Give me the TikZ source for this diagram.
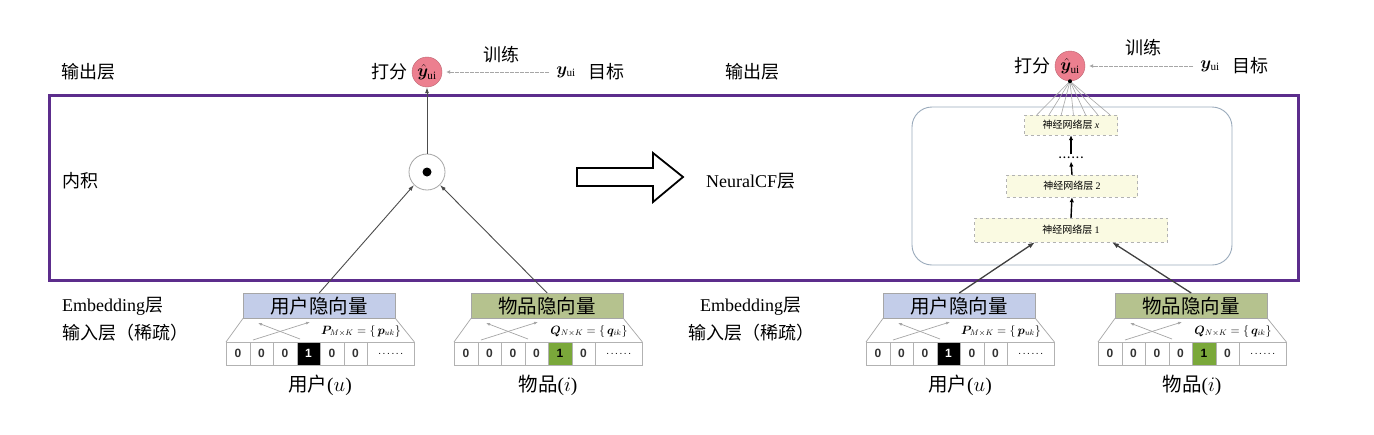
\documentclass[tikz,border=0pt]{standalone}
\usepackage{fontspec}
\usepackage{bm}
\setmainfont{Liberation Serif}
\newfontfamily\cjk{Noto Sans CJK SC}
\newfontfamily\cellf{Liberation Sans}
\usetikzlibrary{arrows.meta,calc}
\definecolor{userblue}{HTML}{C3CDE9}
\definecolor{itemgreen}{HTML}{B5C28E}
\definecolor{onegreen}{HTML}{7AA83A}
\definecolor{framepurple}{HTML}{5C2D8C}
\definecolor{yhatpink}{HTML}{EC7F8F}
\definecolor{layerfill}{HTML}{FAFAE2}
\definecolor{ncfgray}{HTML}{9AAABB}
\newcommand\spdots{.\kern1.6pt.\kern1.6pt.\kern1.6pt.\kern1.6pt.\kern1.6pt.}
\tikzset{
  lab/.style={font=\cjk\fontsize{18}{20}\selectfont, inner sep=0pt},
  botlab/.style={font=\cjk\fontsize{19.5}{21}\selectfont, inner sep=0pt},
  embbox/.style={draw=gray!70, minimum width=152pt, minimum height=25pt, inner sep=0pt, font=\cjk\fontsize{19.5}{20}\selectfont},
  cell/.style={draw=gray!60, minimum width=23.5pt, minimum height=23pt, inner sep=0pt, font=\cellf\bfseries\fontsize{12}{12}\selectfont},
  mtx/.style={inner sep=0pt, font=\fontsize{11.5}{13}\selectfont},
  trap/.style={draw=gray!70, line width=0.7pt},
  xarr/.style={draw=gray!70, line width=0.7pt, -{Latex[length=4pt,width=3pt]}},
  thinarr/.style={draw=gray!60!black, line width=0.9pt, -{Latex[length=6pt,width=4pt]}},
  trainarr/.style={draw=gray!70, line width=0.9pt, dash pattern=on 2pt off 0.5pt, -{Latex[length=4pt,width=4pt]}},
  thickarr/.style={draw=black, line width=1.4pt, -{Latex[length=5pt,width=4.5pt]}},
  embarr/.style={draw=black!75, line width=1.3pt, -{Latex[length=7pt,width=5pt]}},
  yhat/.style={circle, fill=yhatpink, draw=yhatpink!80!black, line width=0.4pt, minimum size=30pt, inner sep=0pt, font=\fontsize{16}{16}\selectfont},
  layerbox/.style={draw=gray!60, dashed, fill=layerfill, inner sep=0pt, font=\cjk\fontsize{10}{12}\selectfont},
  fan/.style={draw=gray!70, line width=0.6pt},
}
\newcommand\embunit[9]{%
  \node[embbox, fill=#3, anchor=north west] (#1box) at (#2,293) {#4};
  \node[mtx] (#1mtx) at (#2+118,331) {#5};
  \foreach \k in {0,...,5}{%
    \ifnum\k=#6\relax\def\mycf{#7}\def\myct{#8}\def\mycc{1}\else\def\mycf{white}\def\myct{black!80}\def\mycc{0}\fi
    \node[cell, fill=\mycf, text=\myct, anchor=north west] (#1c\k) at ({#2-17+23.5*\k},342) {\mycc};
  }
  \node[cell, minimum width=47pt, anchor=north west, font=\cellf\fontsize{10}{10}\selectfont] (#1c6) at (#2+124,342) {\spdots};
  \draw[trap] (#1box.south west) -- (#1c0.north west);
  \draw[trap] (#1box.south east) -- (#1c6.north east);
  \coordinate (#1xa) at (#2+57,339);
  \coordinate (#1xb) at (#2+15,323);
  \coordinate (#1xc) at (#2+10,340);
  \coordinate (#1xd) at (#2+67,322);
  \draw[xarr] (#1xa) -- (#1xb);
  \draw[xarr] (#1xc) -- (#1xd);
  \node[botlab] (#1lbl) at (#2+77,385) {#9};
}
\begin{document}
\begin{tikzpicture}[x=1pt,y=-1pt]
\fill[white] (0,0) rectangle (1374,434);
\useasboundingbox (0,0) rectangle (1374,434);

% purple frame
\draw[framepurple, line width=3pt] (49,95) rectangle (1298,280);

% left labels
\node[lab, anchor=west] (l1) at (61,72) {输出层};
\node[lab, anchor=west] (l2) at (62,181) {内积};
\node[lab, anchor=west] (l3) at (62,306) {{\rmfamily Embedding}层};
\node[lab, anchor=west] (l4) at (62,333) {输入层（稀疏）};
% middle labels
\node[lab, anchor=west] (m1) at (725,72) {输出层};
\node[lab, anchor=west] (m2) at (706,181) {{\rmfamily NeuralCF}层};
\node[lab, anchor=west] (m3) at (700,306) {{\rmfamily Embedding}层};
\node[lab, anchor=west] (m4) at (688,333) {输入层（稀疏）};

% ===== left model =====
\node[yhat] (lyhat) at (427,72) {$\hat{\bm{y}}_{\mathrm{ui}}$};
\node[lab, anchor=east] (lscore) at ($(lyhat.west)+(-4,0)$) {打分};
\node[inner sep=1pt, font=\fontsize{16}{16}\selectfont] (lytgt) at (566,72) {$\bm{y}_{\mathrm{ui}}$};
\node[lab, anchor=west] (lgoal) at (588,72) {目标};
\draw[trainarr, shorten <=6pt, shorten >=4pt] (lytgt.west) -- (lyhat.east);
\node[lab] (ltrain) at (501,55) {训练};

\node[circle, draw=gray!70, line width=0.8pt, minimum size=36pt, inner sep=0pt] (ldot) at (427,172) {};
\fill[black] (ldot.center) circle (4.5pt);
\draw[thinarr] (ldot.north) -- (lyhat.south);

\embunit{lu}{243}{userblue}{用户隐向量}{$\bm{P}_{M\times K}=\{\,\bm{p}_{uk}\}$}{3}{black}{white}{用户{\rmfamily(}$u${\rmfamily)}}
\embunit{li}{471}{itemgreen}{物品隐向量}{$\bm{Q}_{N\times K}=\{\,\bm{q}_{ik}\}$}{4}{onegreen}{black}{物品{\rmfamily(}$i${\rmfamily)}}

\draw[thinarr] (lubox.north) -- (ldot.225);
\draw[thinarr] (libox.north) -- (ldot.-45);

% hollow arrow
\draw[black, line width=1.8pt, line join=miter] (577,168) -- (653,168) -- (653,153) -- (683,177) -- (653,202) -- (653,186) -- (577,186) -- cycle;

% ===== right model =====
\node[yhat] (ryhat) at (1070,66) {$\hat{\bm{y}}_{\mathrm{ui}}$};
\node[lab, anchor=east] (rscore) at ($(ryhat.west)+(-4,0)$) {打分};
\node[inner sep=1pt, font=\fontsize{16}{16}\selectfont] (rytgt) at (1210,66) {$\bm{y}_{\mathrm{ui}}$};
\node[lab, anchor=west] (rgoal) at (1232,66) {目标};
\draw[trainarr, shorten <=6pt, shorten >=4pt] (rytgt.west) -- (ryhat.east);
\node[lab] (rtrain) at (1143,48) {训练};

\draw[ncfgray, line width=0.9pt, rounded corners=20pt] (912,107) rectangle (1232,265);

\node[layerbox, minimum width=93pt, minimum height=20pt] (lx) at (1071,125) {神经网络层 {\rmfamily\itshape x}};
\node[inner sep=2.5pt, font=\bfseries\fontsize{11}{11}\selectfont] (ldots) at (1071,158) {\spdots};
\node[layerbox, minimum width=131pt, minimum height=22pt] (lb2) at (1072,186) {神经网络层 {\rmfamily 2}};
\node[layerbox, minimum width=193pt, minimum height=24pt] (lb1) at (1071,230) {神经网络层 {\rmfamily 1}};

\draw[thickarr] (lb1.north) -- (lb2.south);
\draw[thickarr] (lb2.north) -- (ldots.south);
\draw[thickarr] (ldots.north) -- (lx.south);

\foreach \k in {0,...,6}{
  \draw[fan] ($(lx.north west)+({12.5+12.2*\k},0)$) -- (ryhat.south);
}
\fill[black] (ryhat.south) circle (2pt);

\embunit{ru}{883}{userblue}{用户隐向量}{$\bm{P}_{M\times K}=\{\,\bm{p}_{uk}\}$}{3}{black}{white}{用户{\rmfamily(}$u${\rmfamily)}}
\embunit{ri}{1115}{itemgreen}{物品隐向量}{$\bm{Q}_{N\times K}=\{\,\bm{q}_{ik}\}$}{4}{onegreen}{black}{物品{\rmfamily(}$i${\rmfamily)}}

\draw[embarr] (rubox.north) -- ($(lb1.south)+(-36,0)$);
\draw[embarr] (ribox.north) -- ($(lb1.south)+(41,0)$);
\end{tikzpicture}
\end{document}
